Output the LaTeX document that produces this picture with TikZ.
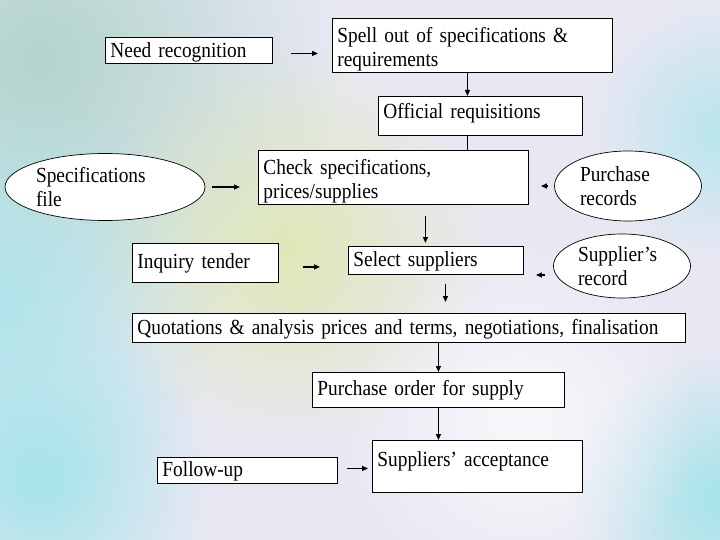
\documentclass[tikz,border=0pt]{standalone}
\usepackage{fontspec}
\setmainfont{Liberation Serif}[FakeStretch=0.9]
\usetikzlibrary{shapes.geometric,arrows.meta,calc,fadings}
\tikzfading[name=softblob, inner color=transparent!0, outer color=transparent!100]
\definecolor{bgbase}{HTML}{E8E8F3}
\definecolor{bgcyan}{HTML}{A4E4EA}
\definecolor{bgteal}{HTML}{B2D4CC}
\definecolor{bgyel}{HTML}{DDE8B0}
\tikzset{
  box/.style={draw=black, line width=0.9pt, fill=white, rectangle, inner xsep=5pt, inner ysep=1pt, align=left, anchor=north west, font=\fontsize{21.5}{24}\selectfont},
  oval/.style={draw=black, line width=0.7pt, fill=white, ellipse, inner sep=0pt, align=left, font=\fontsize{21.5}{24}\selectfont},
  arr/.style={draw=black, line width=1.3pt, -{Triangle[length=6pt,width=5pt]}},
  plain/.style={draw=black, line width=1.3pt}
}
\begin{document}
\begin{tikzpicture}[x=1pt,y=-1pt]
\useasboundingbox (0,0) rectangle (720,540);
% background
\fill[bgbase] (0,0) rectangle (720,540);
\begin{scope}
\clip (0,0) rectangle (720,540);
\fill[bgteal, path fading=softblob] (40,60) circle (300);
\fill[bgcyan, path fading=softblob, opacity=0.8] (0,300) circle (220);
\fill[bgyel, path fading=softblob, opacity=0.9] (290,250) circle (200);
\fill[bgcyan, path fading=softblob] (40,480) circle (170);
\fill[bgcyan, path fading=softblob] (720,500) circle (150);
\fill[bgcyan, path fading=softblob, opacity=0.7] (720,130) circle (130);
\fill[white, path fading=softblob, opacity=0.7] (520,420) circle (180);
\end{scope}
% nodes
\node[box, minimum width=167pt, minimum height=26pt, text width=157pt, text height=18pt] (nr) at (105,37) {Need recognition};
\node[box, minimum width=280pt, minimum height=54pt, text width=270pt, text height=22pt] (spell) at (332,18) {Spell out of specifications \&\\requirements};
\node[box, minimum width=204pt, minimum height=39pt, text width=194pt, text depth=10pt] (req) at (378,96) {Official requisitions};
\node[box, minimum width=270pt, minimum height=54pt, text width=260pt, text height=22pt] (chk) at (258,150) {Check specifications,\\prices/supplies};
\node[oval, minimum width=200pt, minimum height=67pt, text width=138pt] (sf) at (105,187) {Specifications\\file};
\node[oval, minimum width=147pt, minimum height=70pt, text width=96pt] (pr) at (628,186) {Purchase\\records};
\node[oval, minimum width=137pt, minimum height=64pt, text width=88pt] (sr) at (622,266) {Supplier’s\\record};
\node[box, minimum width=146pt, minimum height=39pt, text width=136pt] (inq) at (132,243) {Inquiry tender};
\node[box, minimum width=175pt, minimum height=28pt, text width=165pt, text height=17pt] (sel) at (348,246) {Select suppliers};
\node[box, minimum width=553pt, minimum height=29pt, text width=543pt, text height=18pt] (quo) at (132,313) {Quotations \& analysis prices and terms, negotiations, finalisation};
\node[box, minimum width=252pt, minimum height=35pt, text width=242pt] (po) at (312,372) {Purchase order for supply};
\node[box, minimum width=180pt, minimum height=26pt, text width=170pt, text height=17pt] (fu) at (157,457) {Follow-up};
\node[box, minimum width=210pt, minimum height=52pt, text width=200pt, text depth=14pt] (acc) at (372,440) {Suppliers’ acceptance};
% connectors
\draw[arr, shorten <=18pt, shorten >=14pt] ([yshift=-3pt]nr.east) -- ([yshift=-3pt]nr.east -| spell.west);
\draw[arr] ([xshift=-5pt]spell.south) -- ([xshift=-5pt]spell.south |- req.north);
\draw[plain] ([xshift=-13pt]req.south) -- ([xshift=-13pt]req.south |- chk.north);
\draw[arr, shorten <=7pt, shorten >=18pt] (sf.east) -- (sf.east -| chk.west);
\draw[arr, shorten <=6pt, shorten >=12pt] (pr.west) -- (pr.west -| chk.east);
\draw[arr, shorten <=11pt, shorten >=3pt] ([xshift=32pt]chk.south) -- ([xshift=32pt]chk.south |- sel.north);
\draw[arr, shorten <=24pt, shorten >=28pt] ([yshift=-4pt]inq.east) -- ([yshift=-4pt]inq.east -| sel.west);
\draw[arr, shorten <=8pt, shorten >=12pt] ([yshift=-9pt]sr.west) -- ([yshift=-9pt]sr.west -| sel.east);
\draw[arr, shorten <=9pt, shorten >=11pt] ([xshift=9.5pt]sel.south) -- ([xshift=9.5pt]sel.south |- quo.north);
\draw[arr] (po.north |- quo.south) -- (po.north);
\draw[arr] (po.south) -- (po.south |- acc.north);
\draw[arr, shorten <=9pt, shorten >=4pt] ([yshift=2pt]fu.east) -- ([yshift=2pt]fu.east -| acc.west);
\end{tikzpicture}
\end{document}
